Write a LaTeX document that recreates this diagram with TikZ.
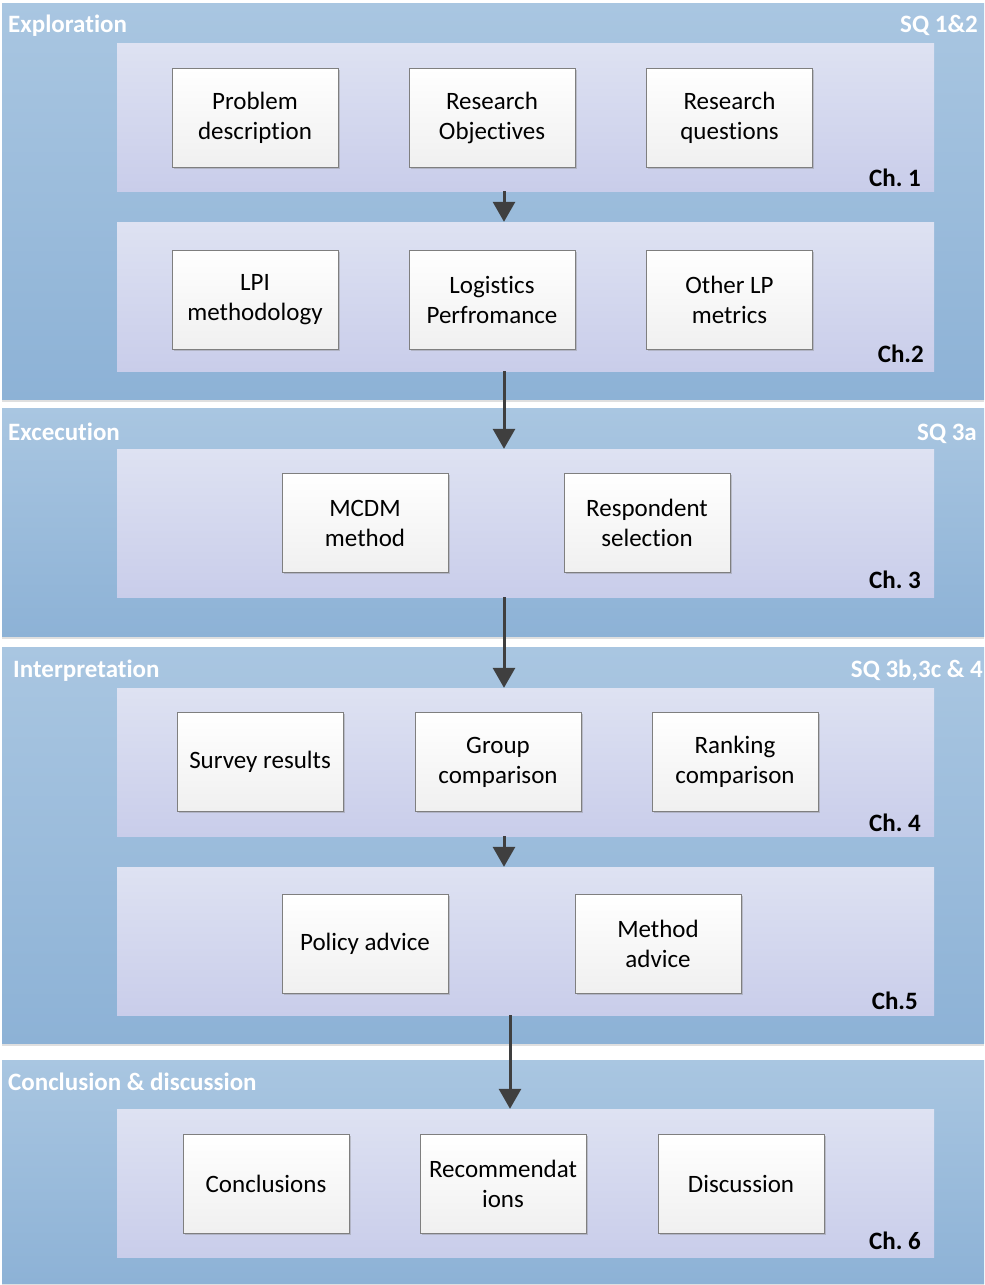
\documentclass[tikz,border=0pt]{standalone}
\usepackage{fontspec}
\setmainfont{Carlito}[Ligatures=NoCommon]
\usetikzlibrary{arrows.meta,shadows}
\definecolor{paneltop}{HTML}{A9C6E1}
\definecolor{panelbot}{HTML}{8DB2D6}
\definecolor{bandtop}{HTML}{DEE2F2}
\definecolor{bandbot}{HTML}{C9CDEA}
\definecolor{boxline}{HTML}{7F7F7F}
\definecolor{arrowc}{HTML}{3F3F3F}
\tikzset{
  panel/.style={rectangle, minimum width=982pt, top color=paneltop, bottom color=panelbot, draw=none,
    drop shadow={opacity=0.25, shadow xshift=0pt, shadow yshift=-3pt}},
  band/.style={rectangle, minimum width=817pt, minimum height=148pt, top color=bandtop, bottom color=bandbot, draw=none},
  stepbox/.style={rectangle, minimum width=166pt, minimum height=99pt, draw=boxline, line width=0.8pt,
    top color=white, bottom color=gray!12, align=center, font=\fontsize{25}{30}\selectfont,
    drop shadow={opacity=0.35, shadow xshift=1.5pt, shadow yshift=-1.5pt}},
  head/.style={font=\fontsize{25}{28}\selectfont\bfseries, text=white, inner sep=0pt},
  chap/.style={font=\fontsize{25}{28}\selectfont\bfseries, text=black, inner sep=0pt},
  flow/.style={line width=3pt, draw=arrowc, -{Triangle[width=22pt,length=20pt]}}
}
\begin{document}
\frenchspacing
\begin{tikzpicture}[x=1pt,y=-1pt]
\useasboundingbox (0,0) rectangle (985,1285);
\fill[white] (0,0) rectangle (985,1285);
% panels
\node[panel, minimum height=396pt] (p1) at (493,201) {};
\node[panel, minimum height=228pt] (p2) at (493,522) {};
\node[panel, minimum height=396pt] (p3) at (493,845) {};
\node[panel, minimum height=223pt] (p4) at (493,1171.5) {};
% bands
\node[band] (b1) at (525.5,117) {};
\node[band, minimum height=149pt] (b2) at (525.5,296.5) {};
\node[band] (b3) at (525.5,523) {};
\node[band] (b4) at (525.5,762) {};
\node[band] (b5) at (525.5,941) {};
\node[band] (b6) at (525.5,1183) {};
% headers
\node[head, anchor=base west] (h1) at (8,32) {Exploration};
\node[head, anchor=base east] (s1) at (978,32) {SQ 1\&2};
\node[head, anchor=base west] (h2) at (8,440) {Excecution};
\node[head, anchor=base east] (s2) at (977,440) {SQ 3a};
\node[head, anchor=base west] (h3) at (13,677) {Interpretation};
\node[head, anchor=base east] (s3) at (983,677) {SQ 3b,3c \& 4};
\node[head, anchor=base west] (h4) at (8,1090) {Conclusion \& discussion};
% chapter labels
\node[chap, anchor=base east] (c1) at (921,186) {Ch. 1};
\node[chap, anchor=base east] (c2) at (924,362) {Ch.2};
\node[chap, anchor=base east] (c3) at (921,588) {Ch. 3};
\node[chap, anchor=base east] (c4) at (921,831) {Ch. 4};
\node[chap, anchor=base east] (c5) at (918,1009) {Ch.5};
\node[chap, anchor=base east] (c6) at (921,1249) {Ch. 6};
% boxes
\node[stepbox] (pd) at (255,117.5) {Problem\\description};
\node[stepbox] (ro) at (492,117.5) {Research\\Objectives};
\node[stepbox] (rq) at (729.5,117.5) {Research\\questions};
\node[stepbox] (lpi) at (255,299.5) {LPI\\methodology};
\node[stepbox] (lp) at (492,299.5) {Logistics\\Perfromance};
\node[stepbox] (olp) at (729.5,299.5) {Other LP\\metrics};
\node[stepbox] (mcdm) at (365,523) {MCDM\\method};
\node[stepbox] (rs) at (647,523) {Respondent\\selection};
\node[stepbox] (sr) at (260,762) {Survey results};
\node[stepbox] (gc) at (498,762) {Group\\comparison};
\node[stepbox] (rc) at (735,762) {Ranking\\comparison};
\node[stepbox] (pa) at (365,944) {Policy advice};
\node[stepbox] (ma) at (658,944) {Method\\advice};
\node[stepbox] (con) at (266,1184) {Conclusions};
\node[stepbox] (rec) at (503,1184) {Recommendat\\ions};
\node[stepbox] (dis) at (741,1184) {Discussion};
% arrows
\coordinate (ax) at (504,0);
\coordinate (ay) at (510,0);
\draw[flow] (b1.south -| ax) -- (b2.north -| ax);
\draw[flow] (b2.south -| ax) -- (b3.north -| ax);
\draw[flow] (b3.south -| ax) -- (b4.north -| ax);
\draw[flow] (b4.south -| ax) -- (b5.north -| ax);
\draw[flow] (b5.south -| ay) -- (b6.north -| ay);
\end{tikzpicture}
\end{document}
